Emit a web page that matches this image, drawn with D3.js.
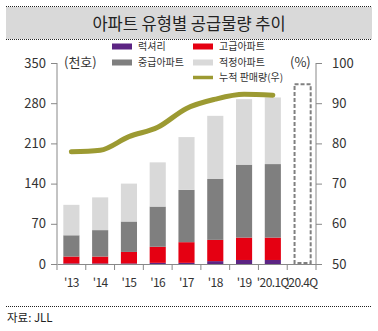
<!DOCTYPE html>
<html><head><meta charset="utf-8">
<script src="https://cdn.jsdelivr.net/npm/d3@7"></script>
<style>body{margin:0;background:#fff}svg{display:block;font-family:"Noto Sans CJK KR","Noto Sans",sans-serif}</style>
</head><body><svg id="c" width="378" height="331"></svg>
<script>
const categories = ["'13","'14","'15","'16","'17","'18","'19","'20.1Q","'20.4Q"];
const luxury     = [1, 1, 1, 2, 2, 5, 7, 7, null];
const highEnd    = [12, 12, 20, 28, 36, 37, 39, 39, null];
const midRange   = [37, 46, 53, 70, 91, 106, 127, 128, null];
const affordable = [53, 57, 66, 77, 92, 110, 114, 116, null];
const salesRate  = [77.9, 78.3, 81.7, 84.0, 88.7, 91.0, 92.2, 92.0, null];
const forecastRate = [null, null, null, null, null, null, null, null, 94.7];
const leftTicks  = [0, 70, 140, 210, 280, 350];
const rightTicks = [50, 60, 70, 80, 90, 100];
const seriesNames = ["럭셔리","고급아파트","중급아파트","적정아파트","누적 판매량(우)"];
const colors = ["#5c2483","#e50012","#7f7f7f","#d9d9d9","#9c9a32"];

const svg = d3.select("#c");
// title
svg.append("rect").attr("x",6).attr("y",7).attr("width",366).attr("height",32).attr("fill","#d9d9d9");
[6.5,39.5].forEach(y=>svg.append("line").attr("x1",6).attr("x2",372).attr("y1",y).attr("y2",y)
  .attr("stroke","#222").attr("stroke-dasharray","1,1"));
svg.append("text").attr("x",189).attr("y",29.5).attr("text-anchor","middle").attr("font-size",16.5)
  .attr("fill","#222").text("아파트 유형별 공급물량 추이");
svg.append("line").attr("x1",6).attr("x2",372).attr("y1",306.5).attr("y2",306.5)
  .attr("stroke","#222").attr("stroke-dasharray","1,1");
svg.append("text").attr("x",7).attr("y",322).attr("font-size",11.5).attr("fill","#222").text("자료: JLL");

const x = d3.scaleBand().domain(categories).range([57,316]).paddingInner(0.44).paddingOuter(0.22);
const xTick = d3.scaleBand().domain(categories).range([57,316]);
const yL = d3.scaleLinear().domain([0,350]).range([264,63]);
const yR = d3.scaleLinear().domain([50,100]).range([264,63]);

// stacked bars
const rows = categories.map((c,i)=>({c, a:luxury[i], b:highEnd[i], m:midRange[i], f:affordable[i]})).filter(d=>d.a!=null);
const stack = d3.stack().keys(["a","b","m","f"])(rows);
stack.forEach((s,k)=>{
  svg.append("g").selectAll("rect").data(s).join("rect")
    .attr("x",d=>x(d.data.c)).attr("width",x.bandwidth())
    .attr("y",d=>yL(d[1])).attr("height",d=>yL(d[0])-yL(d[1]))
    .attr("fill",colors[k]);
});
// forecast dashed box
categories.forEach((c,i)=>{
  if(forecastRate[i]==null) return;
  svg.append("rect").attr("x",x(c)+1).attr("width",x.bandwidth()).attr("y",yR(forecastRate[i]))
    .attr("height",yR(50)-yR(forecastRate[i])-1).attr("fill","none").attr("stroke","#808080")
    .attr("stroke-width",2).attr("stroke-dasharray","4,2");
});

// axes
const axG = "#888";
const gl = svg.append("g").attr("transform","translate(57,0)").call(d3.axisLeft(yL).tickValues(leftTicks).tickSize(6).tickPadding(5));
const gr = svg.append("g").attr("transform","translate(316,0)").call(d3.axisRight(yR).tickValues(rightTicks).tickSize(6).tickPadding(10));
const gx = svg.append("g").attr("transform","translate(0,264)").call(d3.axisBottom(xTick).tickSize(6).tickPadding(5).tickSizeOuter(0));
gx.selectAll(".tick line").attr("transform",`translate(${-xTick.bandwidth()/2},0)`);
gx.append("line").attr("x1",316).attr("x2",316).attr("y1",0).attr("y2",6).attr("stroke",axG);
[gl,gr,gx].forEach(g=>{
  g.selectAll("path,line").attr("stroke",axG);
  g.selectAll("text").attr("fill","#333").attr("font-size",13).attr("font-family","'Noto Sans CJK KR',sans-serif");
});
gl.select(".domain").attr("d","M0,63V264");
gr.select(".domain").attr("d","M0,63V264");
gx.selectAll("text").attr("font-size",12).attr("letter-spacing","-0.6").attr("dy","1.0em");

// line
const pts = categories.map((c,i)=>({c,v:salesRate[i]})).filter(d=>d.v!=null);
svg.append("path").datum(pts).attr("fill","none").attr("stroke",colors[4]).attr("stroke-width",5)
  .attr("stroke-linecap","round")
  .attr("d",d3.line().x(d=>x(d.c)+x.bandwidth()/2).y(d=>yR(d.v)).curve(d3.curveMonotoneX));

// unit labels
svg.append("text").attr("x",64).attr("y",67).attr("font-size",13).attr("fill","#333").text("(천호)");
svg.append("text").attr("x",290).attr("y",67).attr("font-size",13).attr("fill","#333").text("(%)");

// legend
const leg = [
  {i:0,x:112,y:46.5},{i:1,x:193,y:46.5},{i:2,x:112,y:62.5},{i:3,x:193,y:62.5},{i:4,x:193,y:77.5}
];
leg.forEach(l=>{
  if(l.i===4){
    svg.append("line").attr("x1",l.x).attr("x2",l.x+20).attr("y1",l.y).attr("y2",l.y).attr("stroke",colors[4]).attr("stroke-width",3.5);
  } else {
    svg.append("rect").attr("x",l.x).attr("y",l.y-3).attr("width",20).attr("height",6).attr("fill",colors[l.i]);
  }
  svg.append("text").attr("x",l.x+26).attr("y",l.y+3.5).attr("font-size",10).attr("fill","#333").text(seriesNames[l.i]);
});
</script></body></html>
